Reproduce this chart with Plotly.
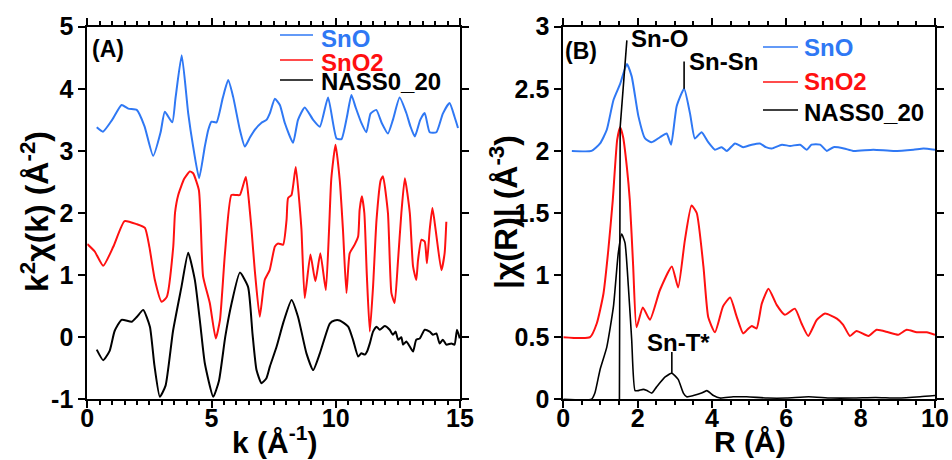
import plotly.graph_objects as go

# ---- (A) k-space EXAFS, k^2-weighted, offset for clarity ----
k_sno = [0.38, 0.63, 1.0, 1.38, 1.65, 1.99, 2.3, 2.65, 2.95, 3.12, 3.42, 3.55, 3.80, 4.06,
         4.26, 4.50, 4.73, 4.87, 5.0, 5.2, 5.45, 5.67, 5.87, 6.14, 6.34, 6.55, 6.74, 7.0,
         7.21, 7.35, 7.55, 7.75, 7.95, 8.28, 8.48, 8.75, 9.09, 9.36, 9.69, 10.03, 10.23,
         10.45, 10.63, 10.8, 11.03, 11.23, 11.4, 11.63, 11.85, 12.10, 12.3, 12.57, 12.84,
         13.0, 13.18, 13.4, 13.58, 13.78, 14.05, 14.31, 14.58, 14.78, 14.92]
chi_sno = [3.38, 3.31, 3.50, 3.74, 3.68, 3.66, 3.40, 2.92, 3.30, 3.63, 3.46, 3.85, 4.54, 3.61,
           3.07, 2.56, 3.07, 3.34, 3.47, 3.46, 3.85, 4.14, 3.87, 3.34, 3.07, 3.22, 3.34, 3.45,
           3.50, 3.61, 3.84, 3.74, 3.45, 3.13, 3.50, 3.70, 3.50, 3.39, 3.86, 3.20, 3.19,
           3.55, 3.90, 3.70, 3.45, 3.30, 3.60, 3.66, 3.45, 3.28, 3.50, 3.86, 3.61,
           3.40, 3.23, 3.50, 3.61, 3.30, 3.30, 3.60, 3.77, 3.55, 3.37]

k_sno2 = [0.0, 0.3, 0.64, 1.05, 1.50, 1.99, 2.32, 2.5, 2.72, 2.99, 3.2, 3.46, 3.53, 3.66,
          3.9, 4.13, 4.26, 4.49, 4.56, 4.66, 4.93, 5.17, 5.34, 5.54, 5.8, 6.0, 6.14, 6.38,
          6.50, 6.61, 6.74, 6.94, 7.14, 7.34, 7.55, 7.68, 7.88, 8.02, 8.08, 8.22, 8.39,
          8.55, 8.62, 8.75, 8.98, 9.18, 9.38, 9.60, 9.73, 9.82, 9.99, 10.16, 10.29, 10.43,
          10.56, 10.76, 10.90, 10.96, 11.05, 11.15, 11.25, 11.37, 11.50, 11.64, 11.81, 11.90,
          12.10, 12.24, 12.37, 12.5, 12.64, 12.78, 12.98, 13.11, 13.24, 13.31, 13.45, 13.58,
          13.67, 13.78, 13.89, 14.02, 14.25, 14.38, 14.45]
chi_sno2 = [1.50, 1.38, 1.15, 1.46, 1.87, 1.82, 1.76, 1.45, 0.92, 0.57, 0.65, 1.46, 2.0, 2.29,
            2.55, 2.67, 2.64, 2.37, 1.89, 0.98, 0.55, -0.02, 0.28, 1.35, 2.29, 2.29, 2.29, 2.58,
            2.21, 1.73, 1.08, 0.33, 0.92, 1.08, 1.46, 1.51, 1.49, 1.89, 2.24, 2.29, 2.74,
            2.10, 1.73, 0.63, 1.33, 0.90, 1.35, 0.76, 1.73, 2.55, 3.10, 2.53, 1.73, 0.71,
            1.35, 1.49, 1.62, 2.05, 2.27, 2.0, 1.0, 0.09, 0.81, 1.89, 2.53, 2.59,
            2.0, 0.71, 0.55, 1.2, 2.0, 2.56, 2.0, 1.14, 0.92, 1.24, 1.57, 1.54,
            1.19, 1.73, 2.08, 1.73, 1.08, 1.35, 1.86]

k_nass = [0.38, 0.64, 0.9, 1.1, 1.38, 1.79, 2.0, 2.25, 2.52, 2.7, 2.92, 3.15, 3.45, 3.79,
          4.06, 4.33, 4.55, 4.73, 5.07, 5.3, 5.55, 5.81, 6.14, 6.47, 6.65, 6.81, 7.01, 7.21,
          7.35, 7.62, 7.9, 8.22, 8.48, 8.82, 9.09, 9.36, 9.76, 9.95, 10.16, 10.50, 10.70,
          10.90, 11.03, 11.17, 11.26, 11.37, 11.50, 11.64, 11.77, 11.97, 12.17, 12.30, 12.41,
          12.51, 12.64, 12.71, 12.84, 12.98, 13.11, 13.24, 13.38, 13.58, 13.78, 13.91, 14.05,
          14.18, 14.31, 14.45, 14.65, 14.78, 14.88, 14.99]
chi_nass = [-0.20, -0.37, -0.22, 0.10, 0.28, 0.25, 0.33, 0.44, 0.17, -0.45, -0.96, -0.78, 0.10, 0.81,
            1.36, 0.92, 0.20, -0.42, -0.96, -0.70, 0.0, 0.55, 1.04, 0.81, 0.05, -0.53, -0.74, -0.66,
            -0.47, -0.15, 0.25, 0.60, 0.33, -0.26, -0.53, -0.26, 0.22, 0.27, 0.27, 0.17, -0.05,
            -0.31, -0.26, -0.28, -0.23, -0.10, 0.09, 0.17, 0.12, 0.18, 0.12, 0.04, 0.09,
            -0.04, 0.0, -0.12, -0.07, -0.15, -0.23, -0.04, -0.02, 0.12, 0.09, 0.04, 0.06,
            -0.10, -0.04, -0.12, -0.10, -0.12, 0.12, -0.02]

# ---- (B) Fourier transform magnitude, offset for clarity ----
r_sno = [0.23, 0.76, 0.99, 1.17, 1.35, 1.53, 1.71, 1.84, 2.02, 2.20, 2.38, 2.60, 2.78, 2.90,
         3.05, 3.25, 3.41, 3.54, 3.72, 3.90, 4.08, 4.26, 4.40, 4.62, 4.84, 5.07, 5.29, 5.45,
         5.61, 5.88, 6.1, 6.37, 6.55, 6.68, 6.91, 7.09, 7.27, 7.55, 7.80, 8.34, 8.88, 9.42,
         9.69, 10.0]
ft_sno = [2.00, 2.00, 2.06, 2.17, 2.41, 2.54, 2.70, 2.60, 2.28, 2.10, 2.07, 2.11, 2.14, 2.05,
          2.36, 2.50, 2.30, 2.10, 2.15, 2.07, 2.01, 2.03, 2.00, 2.06, 2.03, 2.05, 2.06, 2.03,
          2.02, 2.05, 2.04, 2.05, 2.01, 2.05, 2.05, 2.00, 2.03, 2.02, 2.00, 2.01, 2.00, 2.01,
          2.02, 2.01]

r_sno2 = [0.0, 0.72, 0.90, 1.08, 1.21, 1.33, 1.45, 1.53, 1.61, 1.71, 1.79, 1.88, 1.97, 2.14,
          2.33, 2.60, 2.92, 3.09, 3.27, 3.45, 3.59, 3.77, 3.90, 4.08, 4.30, 4.49, 4.66, 4.84,
          4.98, 5.07, 5.20, 5.34, 5.52, 5.74, 5.96, 6.23, 6.41, 6.59, 6.82, 7.04, 7.36, 7.53,
          7.71, 7.89, 8.21, 8.43, 8.74, 9.01, 9.24, 9.51, 9.78, 10.0]
ft_sno2 = [0.50, 0.50, 0.61, 0.85, 1.20, 1.60, 2.09, 2.19, 2.11, 1.87, 1.60, 1.07, 0.58, 0.74,
           0.64, 0.88, 1.07, 0.90, 1.28, 1.56, 1.50, 1.07, 0.66, 0.54, 0.75, 0.82, 0.67, 0.53,
           0.57, 0.59, 0.57, 0.77, 0.89, 0.76, 0.68, 0.73, 0.61, 0.51, 0.64, 0.69, 0.65, 0.60,
           0.51, 0.55, 0.51, 0.56, 0.54, 0.52, 0.56, 0.54, 0.54, 0.52]

r_nass = [0.0, 0.76, 0.85, 0.99, 1.17, 1.35, 1.48, 1.57, 1.66, 1.75, 1.84, 1.93, 2.02, 2.15,
          2.25, 2.38, 2.51, 2.74, 2.92, 3.09, 3.23, 3.32, 3.50, 3.72, 3.86, 4.04, 4.22, 4.57,
          4.93, 5.5, 6.0, 6.6, 7.2, 7.8, 8.4, 9.0, 9.6, 10.0]
ft_nass = [0.0, 0.0, 0.05, 0.24, 0.42, 0.75, 1.18, 1.33, 1.26, 0.91, 0.48, 0.07, 0.07, 0.08,
           0.07, 0.05, 0.10, 0.18, 0.21, 0.16, 0.05, 0.02, 0.03, 0.05, 0.07, 0.03, 0.01, 0.02,
           0.02, 0.01, 0.01, 0.02, 0.01, 0.01, 0.015, 0.01, 0.02, 0.03]

# Tick values / labels
k_ticks = [0, 5, 10, 15]
k_ticktext = ["0", "5", "10", "15"]
chi_ticks = [-1, 0, 1, 2, 3, 4, 5]
chi_ticktext = ["-1", "0", "1", "2", "3", "4", "5"]
r_ticks = [0, 2, 4, 6, 8, 10]
r_ticktext = ["0", "2", "4", "6", "8", "10"]
ft_ticks = [0, 0.5, 1, 1.5, 2, 2.5, 3]
ft_ticktext = ["0", "0.5", "1", "1.5", "2", "2.5", "3"]

series_names = ["SnO", "SnO2", "NASS0_20"]
BLUE = "#2f78f4"
RED = "#ff1010"
BLACK = "#000000"
series_colors = [BLUE, RED, BLACK]

FONT = "Liberation Sans, Arial, sans-serif"
W, H = 952, 460


def px(x):
    return x / W


def py(y):
    return 1 - y / H


fig = go.Figure()

line_spline = dict(shape="spline", smoothing=0.5)
for xs, ys, c in [(k_sno, chi_sno, BLUE), (k_sno2, chi_sno2, RED), (k_nass, chi_nass, BLACK)]:
    fig.add_trace(go.Scatter(x=xs, y=ys, mode="lines", xaxis="x", yaxis="y",
                             line=dict(color=c, width=2, **line_spline),
                             showlegend=False, hoverinfo="skip"))
for xs, ys, c, w in [(r_sno, ft_sno, BLUE, 2), (r_sno2, ft_sno2, RED, 2), (r_nass, ft_nass, BLACK, 1.6)]:
    fig.add_trace(go.Scatter(x=xs, y=ys, mode="lines", xaxis="x2", yaxis="y2",
                             line=dict(color=c, width=w, **line_spline),
                             showlegend=False, hoverinfo="skip"))

tickfont = dict(family=FONT, size=25, color="black", weight="bold")
axis_common = dict(showline=True, linecolor="black", linewidth=2, mirror="ticks",
                   ticks="outside", ticklen=7, tickwidth=2, tickcolor="black",
                   showgrid=False, zeroline=False, tickfont=tickfont, tickmode="array",
                   automargin=False)
minor_ticks = dict(ticks="outside", ticklen=4, tickwidth=1.5, tickcolor="black", dtick=0.5, tick0=0)

dom_y = [py(399.3), py(26.7)]
fig.update_layout(
    width=W, height=H,
    margin=dict(l=0, r=0, t=0, b=0, autoexpand=False),
    paper_bgcolor="white", plot_bgcolor="white",
    xaxis=dict(domain=[px(87.3), px(460)], range=[0, 15], tickvals=k_ticks, ticktext=k_ticktext,
               anchor="y", minor=minor_ticks, ticklabelstandoff=-11, **axis_common),
    yaxis=dict(domain=dom_y, range=[-1, 5], tickvals=chi_ticks, ticktext=chi_ticktext,
               anchor="x", **axis_common),
    xaxis2=dict(domain=[px(563.3), px(935)], range=[0, 10], tickvals=r_ticks, ticktext=r_ticktext,
                anchor="y2", minor=minor_ticks, ticklabelstandoff=-11, **axis_common),
    yaxis2=dict(domain=dom_y, range=[0, 3], tickvals=ft_ticks, ticktext=ft_ticktext,
                anchor="x2", **axis_common),
)

shapes = []
annotations = []

# Legends drawn as short line samples with coloured labels
leg_font = dict(family=FONT, size=24, weight="bold")
for (x0, x1, xt, lines_y, text_y) in [
    (280, 313, 319, [35, 60, 80], [39, 62, 82]),
    (763, 798, 802, [47, 82, 110], [48, 82, 112]),
]:
    for name, col, ly, ty in zip(series_names, series_colors, lines_y, text_y):
        shapes.append(dict(type="line", xref="paper", yref="paper",
                           x0=px(x0), x1=px(x1), y0=py(ly), y1=py(ly),
                           line=dict(color=col, width=1.6)))
        annotations.append(dict(text=name, xref="paper", yref="paper", x=px(xt), y=py(ty),
                                xanchor="left", yanchor="middle", showarrow=False,
                                font=dict(color=col, **leg_font)))

# Panel labels
annotations.append(dict(text="(A)", xref="paper", yref="paper", x=px(90), y=py(49),
                        xanchor="left", yanchor="middle", showarrow=False,
                        font=dict(family=FONT, size=23, color="black", weight="bold")))
annotations.append(dict(text="(B)", xref="paper", yref="paper", x=px(563), y=py(51),
                        xanchor="left", yanchor="middle", showarrow=False,
                        font=dict(family=FONT, size=23, color="black", weight="bold")))

# Peak assignments in panel B
peak_font = dict(family=FONT, size=24, color="black", weight="bold")
shapes.append(dict(type="path", xref="x2", yref="y2",
                   path="M1.71,2.89 L1.53,2.19 L1.51,0",
                   line=dict(color="black", width=1.6)))
shapes.append(dict(type="line", xref="x2", yref="y2", x0=3.25, x1=3.25, y0=2.50, y1=2.72,
                   line=dict(color="black", width=1.6)))
shapes.append(dict(type="line", xref="x2", yref="y2", x0=2.92, x1=2.92, y0=0.21, y1=0.38,
                   line=dict(color="black", width=1.6)))
annotations.append(dict(text="Sn-O", xref="x2", yref="y2", x=1.76, y=2.905,
                        xanchor="left", yanchor="middle", showarrow=False, font=peak_font))
annotations.append(dict(text="Sn-Sn", xref="x2", yref="y2", x=3.33, y=2.72,
                        xanchor="left", yanchor="middle", showarrow=False, font=peak_font))
annotations.append(dict(text="Sn-T*", xref="x2", yref="y2", x=3.10, y=0.455,
                        xanchor="center", yanchor="middle", showarrow=False, font=peak_font))

# Axis titles
title_font = dict(family=FONT, size=30, color="black", weight="bold")
annotations.append(dict(text="k (Å<sup>-1</sup>)", xref="paper", yref="paper", x=px(274), y=py(440),
                        xanchor="center", yanchor="middle", showarrow=False, font=title_font))
annotations.append(dict(text="R (Å)", xref="paper", yref="paper", x=px(750), y=py(441),
                        xanchor="center", yanchor="middle", showarrow=False, font=title_font))
annotations.append(dict(text="k<sup>2</sup>χ(k) (Å<sup>-2</sup>)", xref="paper", yref="paper",
                        x=px(35), y=py(212), xanchor="center", yanchor="middle", textangle=-90,
                        showarrow=False, font=dict(family=FONT, size=32, color="black", weight="bold")))
annotations.append(dict(text="|χ(R)| (Å<sup>-3</sup>)", xref="paper", yref="paper",
                        x=px(504), y=py(212), xanchor="center", yanchor="middle", textangle=-90,
                        showarrow=False, font=dict(family=FONT, size=32, color="black", weight="bold")))

fig.update_layout(shapes=shapes, annotations=annotations)
fig.write_html("out.html")
